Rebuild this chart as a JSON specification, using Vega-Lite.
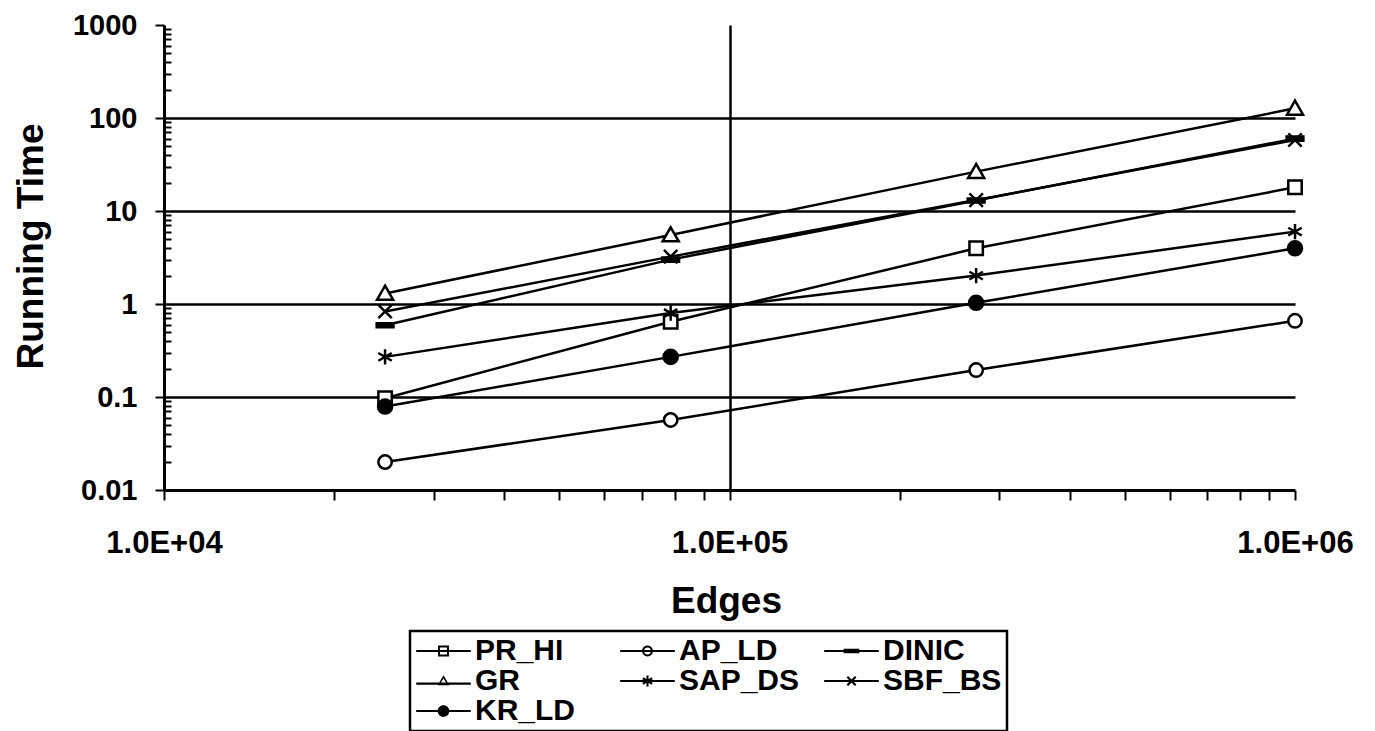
{
  "$schema": "https://vega.github.io/schema/vega-lite/v6.json",
  "width": 1131,
  "height": 465,
  "autosize": "none",
  "padding": {"left": 164, "top": 25, "right": 80, "bottom": 241},
  "background": "white",
  "config": {"view": {"stroke": null}, "font": "Liberation Sans", "legend": {"strokeWidth": 2.5}},
  "data": {
    "values": [
      {"series": "PR_HI", "edges": 24600, "time": 0.097},
      {"series": "PR_HI", "edges": 78700, "time": 0.645},
      {"series": "PR_HI", "edges": 273000, "time": 3.97},
      {"series": "PR_HI", "edges": 1000000, "time": 18},
      {"series": "AP_LD", "edges": 24600, "time": 0.02},
      {"series": "AP_LD", "edges": 78700, "time": 0.0566},
      {"series": "AP_LD", "edges": 273000, "time": 0.195},
      {"series": "AP_LD", "edges": 1000000, "time": 0.66},
      {"series": "DINIC", "edges": 24600, "time": 0.59},
      {"series": "DINIC", "edges": 78700, "time": 3.0},
      {"series": "DINIC", "edges": 273000, "time": 13},
      {"series": "DINIC", "edges": 1000000, "time": 60},
      {"series": "GR", "edges": 24600, "time": 1.3},
      {"series": "GR", "edges": 78700, "time": 5.52},
      {"series": "GR", "edges": 273000, "time": 26.5},
      {"series": "GR", "edges": 1000000, "time": 127},
      {"series": "SAP_DS", "edges": 24600, "time": 0.27},
      {"series": "SAP_DS", "edges": 78700, "time": 0.8},
      {"series": "SAP_DS", "edges": 273000, "time": 2.02},
      {"series": "SAP_DS", "edges": 1000000, "time": 6.0},
      {"series": "SBF_BS", "edges": 24600, "time": 0.83},
      {"series": "SBF_BS", "edges": 78700, "time": 3.23},
      {"series": "SBF_BS", "edges": 273000, "time": 13.1},
      {"series": "SBF_BS", "edges": 1000000, "time": 58},
      {"series": "KR_LD", "edges": 24600, "time": 0.079},
      {"series": "KR_LD", "edges": 78700, "time": 0.27},
      {"series": "KR_LD", "edges": 273000, "time": 1.03},
      {"series": "KR_LD", "edges": 1000000, "time": 3.97}
    ]
  },
  "encoding": {
    "x": {
      "field": "edges",
      "type": "quantitative",
      "scale": {"type": "log", "domain": [10000, 1000000], "nice": false},
      "axis": {
        "values": [10000, 20000, 30000, 40000, 50000, 60000, 70000, 80000, 90000, 100000, 200000, 300000, 400000, 500000, 600000, 700000, 800000, 900000, 1000000],
        "labelExpr": "datum.value == 10000 ? '1.0E+04' : datum.value == 100000 ? '1.0E+05' : datum.value == 1000000 ? '1.0E+06' : ''",
        "labelFont": "Liberation Sans",
        "labelFontSize": 31,
        "labelFontWeight": "bold",
        "labelColor": "black",
        "labelPadding": 28,
        "labelFlush": false,
        "labelOverlap": false,
        "tickColor": "black",
        "tickSize": 10,
        "tickWidth": 2,
        "domainColor": "black",
        "domainWidth": 3,
        "grid": true,
        "gridColor": "black",
        "gridWidth": 2.5,
        "gridOpacity": {"condition": {"test": "datum.value == 100000", "value": 1}, "value": 0},
        "title": "Edges",
        "titleFont": "Liberation Sans",
        "titleFontSize": 37,
        "titleFontWeight": "bold",
        "titleColor": "black",
        "titleX": 562,
        "titleY": 122,
        "titleBaseline": "alphabetic",
        "titleAlign": "center"
      }
    },
    "y": {
      "field": "time",
      "type": "quantitative",
      "scale": {"type": "log", "domain": [0.01, 1000], "nice": false},
      "axis": {
        "values": [0.01, 0.02, 0.03, 0.04, 0.05, 0.06, 0.07, 0.08, 0.09, 0.1, 0.2, 0.3, 0.4, 0.5, 0.6, 0.7, 0.8, 0.9, 1, 2, 3, 4, 5, 6, 7, 8, 9, 10, 20, 30, 40, 50, 60, 70, 80, 90, 100, 200, 300, 400, 500, 600, 700, 800, 900, 1000],
        "format": "~g",
        "labelExpr": "indexof([0.01, 0.1, 1, 10, 100, 1000], datum.value) >= 0 ? datum.label : ''",
        "labelFont": "Liberation Sans",
        "labelFontSize": 29,
        "labelFontWeight": "bold",
        "labelColor": "black",
        "labelPadding": 18,
        "labelFlush": false,
        "labelOverlap": false,
        "tickColor": "black",
        "tickWidth": 2,
        "tickSize": {"condition": {"test": "indexof([0.01, 0.1, 1, 10, 100, 1000], datum.value) >= 0", "value": 9}, "value": -7},
        "domainColor": "black",
        "domainWidth": 3,
        "grid": true,
        "gridColor": "black",
        "gridWidth": 2.5,
        "gridOpacity": {"condition": {"test": "indexof([0.1, 1, 10, 100], datum.value) >= 0", "value": 1}, "value": 0},
        "title": "Running Time",
        "titleFont": "Liberation Sans",
        "titleFontSize": 37,
        "titleFontWeight": "bold",
        "titleColor": "black",
        "titleX": -122,
        "titleY": 221,
        "titleBaseline": "alphabetic",
        "titleAlign": "center"
      }
    }
  },
  "layer": [
    {
      "mark": {"type": "line", "stroke": "black", "strokeWidth": 2.5},
      "encoding": {"detail": {"field": "series"}}
    },
    {
      "mark": {"type": "point", "filled": true, "stroke": "black", "strokeWidth": 2.5, "size": 180, "opacity": 1},
      "encoding": {
        "shape": {
          "field": "series",
          "scale": {
            "domain": ["PR_HI", "AP_LD", "DINIC", "GR", "SAP_DS", "SBF_BS", "KR_LD"],
            "range": [
              "M-1,-1H1V1H-1Z",
              "M1,0A1,1 0 1 1 -1,0A1,1 0 1 1 1,0Z",
              "M-1.25,-0.3H1.25V0.3H-1.25Z",
              "M0,-1.15L1.2,0.95H-1.2Z",
              "M0,-1.15V1.15M-1,-0.58L1,0.58M-1,0.58L1,-0.58",
              "M-1,-1L1,1M-1,1L1,-1",
              "M1.05,0A1.05,1.05 0 1 1 -1.05,0A1.05,1.05 0 1 1 1.05,0Z"
            ]
          },
          "legend": null
        },
        "fill": {
          "field": "series",
          "scale": {
            "domain": ["PR_HI", "AP_LD", "DINIC", "GR", "SAP_DS", "SBF_BS", "KR_LD"],
            "range": ["white", "white", "black", "white", "white", "white", "black"]
          },
          "legend": null
        }
      }
    },
    {
      "mark": {"type": "point", "filled": true, "color": "black", "opacity": 0},
      "encoding": {
        "shape": {
          "field": "series",
          "scale": {
            "domain": ["PR_HI", "AP_LD", "DINIC", "GR", "SAP_DS", "SBF_BS", "KR_LD"],
            "range": [
              "M-2.1,-0.08H2.1V0.08H-2.1ZM-0.42,-0.42H0.42V0.42H-0.42ZM-0.27,-0.27V0.27H0.27V-0.27Z",
              "M-2.1,-0.08H2.1V0.08H-2.1ZM0.42,0A0.42,0.42 0 1 1 -0.42,0A0.42,0.42 0 1 1 0.42,0ZM0.27,0A0.27,0.27 0 1 0 -0.27,0A0.27,0.27 0 1 0 0.27,0Z",
              "M-2.1,-0.08H2.1V0.08H-2.1ZM-0.6,-0.18H0.6V0.18H-0.6Z",
              "M-2.1,0.12H2.1V0.28H-2.1ZM0,-0.45L0.45,0.32H-0.45ZM0,-0.2L-0.24,0.2H0.24Z",
              "M-2.1,-0.08H2.1V0.08H-2.1ZM-0.08,-0.42H0.08V0.42H-0.08ZM-0.4,-0.14L-0.32,-0.28L0.4,0.14L0.32,0.28ZM-0.32,0.28L-0.4,0.14L0.32,-0.28L0.4,-0.14Z",
              "M-2.1,-0.08H2.1V0.08H-2.1ZM-0.38,-0.26L-0.26,-0.38L0.38,0.26L0.26,0.38ZM-0.26,0.38L-0.38,0.26L0.26,-0.38L0.38,-0.26Z",
              "M-2.1,-0.08H2.1V0.08H-2.1ZM0.45,0A0.45,0.45 0 1 1 -0.45,0A0.45,0.45 0 1 1 0.45,0Z"
            ]
          },
          "legend": {
            "title": null,
            "orient": "none",
            "direction": "horizontal",
            "legendX": 246,
            "legendY": 606,
            "columns": 3,
            "gridAlign": "all",
            "columnPadding": 23,
            "rowPadding": -6,
            "padding": 5,
            "strokeColor": "black",
            "fillColor": "white",
            "symbolSize": 676,
            "symbolOffset": 13.5,
            "symbolStrokeWidth": 0,
            "symbolOpacity": 1,
            "labelFont": "Liberation Sans",
            "labelFontSize": 30,
            "labelFontWeight": "bold",
            "labelColor": "black",
            "labelOffset": 16.5,
            "labelLimit": 400
          }
        }
      }
    }
  ],
  "resolve": {"scale": {"shape": "independent"}}
}
